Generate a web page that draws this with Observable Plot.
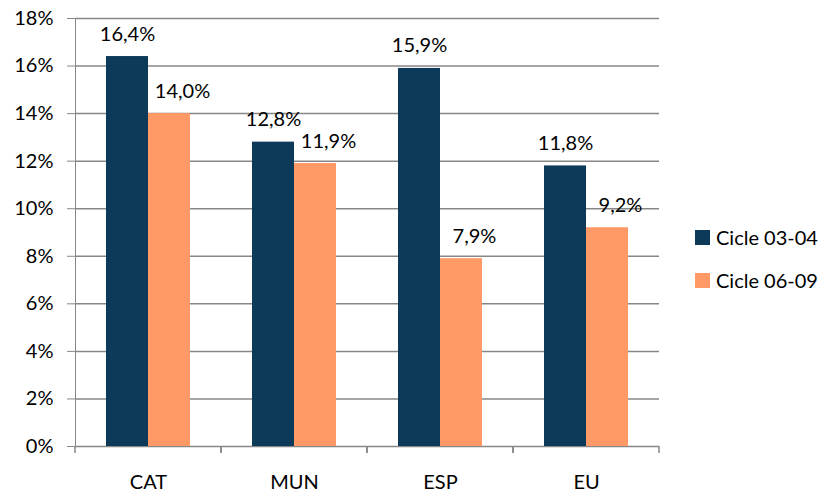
<!DOCTYPE html>
<html>
<head>
<meta charset="utf-8">
<script src="https://cdn.jsdelivr.net/npm/d3@7"></script>
<script src="https://cdn.jsdelivr.net/npm/@observablehq/plot@0.6"></script>
<style>
  html, body { margin: 0; padding: 0; background: #fff; }
  #chart { position: relative; width: 824px; height: 494px; font-family: Lato, sans-serif; }
  #chart svg text { fill: #000; }
  .legend { position: absolute; left: 695px; top: 0; font-size: 20px; color: #000; }
  .legend .item { position: absolute; left: 0; display: flex; align-items: center; white-space: nowrap; }
  .legend .sw { width: 15px; height: 15px; margin-right: 6px; }
</style>
</head>
<body>
<div id="chart"></div>
<script>
const categories = ["CAT", "MUN", "ESP", "EU"];
const series = ["Cicle 03-04", "Cicle 06-09"];
const cicle0304 = [16.4, 12.8, 15.9, 11.8];
const cicle0609 = [14.0, 11.9, 7.9, 9.2];
const yTicks = [0, 2, 4, 6, 8, 10, 12, 14, 16, 18];
const colors = ["#0e3a5a", "#ff9966"];

const data = categories.flatMap((c, i) => [
  {cat: c, series: series[0], value: cicle0304[i]},
  {cat: c, series: series[1], value: cicle0609[i]}
]);
const fmt = v => d3.format(".1f")(v).replace(".", ",") + "%";

const boundaryTicks = (index, scales, values, dims) => {
  const g = d3.create("svg:g");
  const r = scales.x.range ? scales.x.range() : [dims.marginLeft, dims.width - dims.marginRight];
  const y0 = scales.y(0);
  for (const xv of r) {
    g.append("line")
      .attr("x1", xv).attr("x2", xv)
      .attr("y1", y0).attr("y2", y0 + 7)
      .attr("stroke", "#878787").attr("stroke-width", 1.5);
  }
  return g.node();
};

const svg = Plot.plot({
  width: 824,
  height: 494,
  marginLeft: 75,
  marginRight: 165,
  marginTop: 18,
  marginBottom: 48,
  style: {fontFamily: "Lato, sans-serif", fontSize: "20px", color: "#878787", background: "white", overflow: "visible"},
  facet: {data, x: "cat"},
  fx: {domain: categories, padding: 0, label: null, axis: "bottom", tickSize: 0, tickPadding: 28},
  x: {domain: series, paddingInner: 0, paddingOuter: 0.738, axis: null},
  y: {domain: [0, 18], ticks: yTicks, tickFormat: d => d + "%", tickSize: 8, tickPadding: 14, label: null, line: true},
  color: {domain: series, range: colors},
  marks: [
    Plot.ruleY(yTicks, {stroke: "#878787", strokeWidth: 1.5}),
    Plot.barY(data, {x: "series", y: "value", fill: "series"}),
    Plot.text(data, {filter: d => d.series === series[0], x: "series", y: "value", text: d => fmt(d.value), lineAnchor: "bottom", dy: -16, fill: "#000"}),
    Plot.text(data, {filter: d => d.series === series[1], x: "series", y: "value", text: d => fmt(d.value), lineAnchor: "bottom", dy: -16, dx: 13, fill: "#000"}),
    boundaryTicks
  ]
});

const chart = document.getElementById("chart");
chart.appendChild(svg);

const legend = document.createElement("div");
legend.className = "legend";
series.forEach((s, i) => {
  const item = document.createElement("div");
  item.className = "item";
  item.style.top = (222 + i * 43) + "px";
  item.style.height = "30px";
  const sw = document.createElement("span");
  sw.className = "sw";
  sw.style.background = colors[i];
  const t = document.createElement("span");
  t.textContent = s;
  item.appendChild(sw);
  item.appendChild(t);
  legend.appendChild(item);
});
chart.appendChild(legend);
</script>
</body>
</html>
